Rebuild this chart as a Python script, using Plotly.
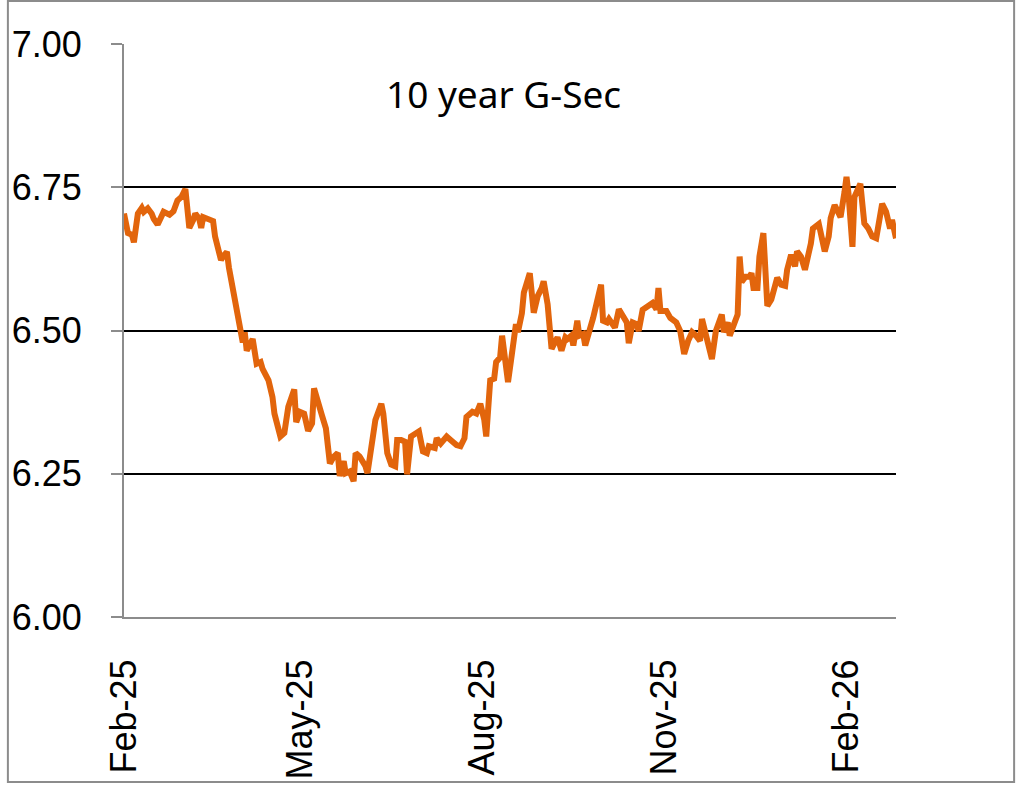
import plotly.graph_objects as go

dates = [
    "2025-02-01", "2025-02-03", "2025-02-05", "2025-02-06", "2025-02-08", "2025-02-10", "2025-02-11",
    "2025-02-13", "2025-02-15", "2025-02-16", "2025-02-18", "2025-02-20", "2025-02-21", "2025-02-24",
    "2025-02-26", "2025-02-28", "2025-03-02", "2025-03-04", "2025-03-06", "2025-03-08", "2025-03-09",
    "2025-03-11", "2025-03-12", "2025-03-13", "2025-03-15", "2025-03-18", "2025-03-19", "2025-03-21",
    "2025-03-22", "2025-03-23", "2025-03-25", "2025-03-26", "2025-03-28", "2025-03-30", "2025-04-01",
    "2025-04-02", "2025-04-03", "2025-04-04", "2025-04-07", "2025-04-09", "2025-04-11", "2025-04-12",
    "2025-04-15", "2025-04-17", "2025-04-18", "2025-04-21", "2025-04-23", "2025-04-25", "2025-04-28",
    "2025-04-29", "2025-05-01", "2025-05-03", "2025-05-05", "2025-05-07", "2025-05-08", "2025-05-10",
    "2025-05-12", "2025-05-14", "2025-05-15", "2025-05-16", "2025-05-18", "2025-05-20", "2025-05-21",
    "2025-05-23", "2025-05-24", "2025-05-26", "2025-05-28", "2025-05-29", "2025-05-31", "2025-06-03",
    "2025-06-04", "2025-06-06", "2025-06-08", "2025-06-11", "2025-06-12", "2025-06-14", "2025-06-16",
    "2025-06-18", "2025-06-19", "2025-06-21", "2025-06-23", "2025-06-24", "2025-06-26", "2025-06-30",
    "2025-07-02", "2025-07-04", "2025-07-05", "2025-07-08", "2025-07-09", "2025-07-11", "2025-07-14",
    "2025-07-16", "2025-07-19", "2025-07-21", "2025-07-23", "2025-07-24", "2025-07-27", "2025-07-29",
    "2025-07-31", "2025-08-02", "2025-08-03", "2025-08-05", "2025-08-07", "2025-08-08", "2025-08-10",
    "2025-08-11", "2025-08-14", "2025-08-16", "2025-08-18", "2025-08-19", "2025-08-21", "2025-08-22",
    "2025-08-25", "2025-08-27", "2025-08-29", "2025-08-31", "2025-09-01", "2025-09-03", "2025-09-05",
    "2025-09-07", "2025-09-08", "2025-09-10", "2025-09-12", "2025-09-13", "2025-09-15", "2025-09-16",
    "2025-09-18", "2025-09-19", "2025-09-21", "2025-09-22", "2025-09-24", "2025-09-26", "2025-09-28",
    "2025-09-30", "2025-10-01", "2025-10-03", "2025-10-04", "2025-10-06", "2025-10-07", "2025-10-09",
    "2025-10-11", "2025-10-13", "2025-10-14", "2025-10-16", "2025-10-18", "2025-10-19", "2025-10-21",
    "2025-10-24", "2025-10-26", "2025-10-28", "2025-10-29", "2025-10-30", "2025-11-02", "2025-11-04",
    "2025-11-07", "2025-11-09", "2025-11-11", "2025-11-13", "2025-11-15", "2025-11-17", "2025-11-19",
    "2025-11-20", "2025-11-22", "2025-11-24", "2025-11-25", "2025-11-27", "2025-11-29", "2025-11-30",
    "2025-12-01", "2025-12-03", "2025-12-04", "2025-12-06", "2025-12-08", "2025-12-09", "2025-12-10",
    "2025-12-12", "2025-12-14", "2025-12-15", "2025-12-16", "2025-12-18", "2025-12-19", "2025-12-21",
    "2025-12-23", "2025-12-25", "2025-12-27", "2025-12-28", "2025-12-30", "2026-01-01", "2026-01-02",
    "2026-01-04", "2026-01-06", "2026-01-07", "2026-01-09", "2026-01-11", "2026-01-14", "2026-01-15",
    "2026-01-18", "2026-01-19", "2026-01-21", "2026-01-23", "2026-01-24", "2026-01-26", "2026-01-28",
    "2026-01-29", "2026-01-31", "2026-02-01", "2026-02-02", "2026-02-04", "2026-02-05", "2026-02-08",
    "2026-02-09", "2026-02-10", "2026-02-12", "2026-02-14", "2026-02-16", "2026-02-19", "2026-02-21",
    "2026-02-23", "2026-02-24", "2026-02-26",
]

yields = [
    6.704, 6.670, 6.667, 6.654, 6.704, 6.714, 6.707,
    6.713, 6.704, 6.695, 6.685, 6.701, 6.707, 6.702,
    6.708, 6.727, 6.733, 6.747, 6.679, 6.693, 6.704,
    6.695, 6.679, 6.698, 6.695, 6.691, 6.664, 6.632,
    6.623, 6.629, 6.637, 6.610, 6.576, 6.540, 6.499,
    6.479, 6.497, 6.465, 6.485, 6.442, 6.445, 6.433,
    6.413, 6.384, 6.355, 6.315, 6.321, 6.367, 6.397,
    6.340, 6.358, 6.355, 6.325, 6.338, 6.399, 6.370,
    6.352, 6.329, 6.280, 6.268, 6.280, 6.286, 6.246,
    6.272, 6.251, 6.254, 6.237, 6.286, 6.280, 6.263,
    6.251, 6.298, 6.344, 6.372, 6.355, 6.286, 6.266,
    6.263, 6.309, 6.309, 6.306, 6.249, 6.315, 6.324,
    6.289, 6.286, 6.298, 6.295, 6.312, 6.303, 6.315,
    6.309, 6.300, 6.298, 6.312, 6.349, 6.358, 6.355,
    6.372, 6.344, 6.315, 6.413, 6.416, 6.445, 6.453,
    6.491, 6.410, 6.460, 6.511, 6.497, 6.530, 6.566,
    6.600, 6.531, 6.560, 6.574, 6.586, 6.546, 6.468,
    6.482, 6.488, 6.465, 6.488, 6.485, 6.491, 6.474,
    6.517, 6.491, 6.494, 6.474, 6.494, 6.522, 6.551,
    6.580, 6.517, 6.514, 6.520, 6.511, 6.505, 6.537,
    6.525, 6.514, 6.478, 6.514, 6.511, 6.499, 6.536,
    6.543, 6.548, 6.537, 6.574, 6.534, 6.534, 6.522,
    6.514, 6.499, 6.459, 6.482, 6.497, 6.491, 6.482,
    6.520, 6.491, 6.459, 6.450, 6.499, 6.517, 6.528,
    6.497, 6.514, 6.491, 6.511, 6.528, 6.629, 6.585,
    6.594, 6.594, 6.600, 6.574, 6.574, 6.629, 6.670,
    6.543, 6.554, 6.577, 6.592, 6.580, 6.578, 6.606,
    6.632, 6.612, 6.638, 6.629, 6.606, 6.652, 6.678,
    6.686, 6.670, 6.638, 6.664, 6.696, 6.719, 6.701,
    6.698, 6.742, 6.768, 6.739, 6.646, 6.733, 6.756,
    6.721, 6.687, 6.678, 6.664, 6.661, 6.721, 6.707,
    6.678, 6.693, 6.661,
]

x_tick_vals = ["2025-02-01", "2025-05-01", "2025-08-01", "2025-11-01", "2026-02-01"]
x_tick_text = ["Feb-25", "May-25", "Aug-25", "Nov-25", "Feb-26"]
y_tick_vals = [6.00, 6.25, 6.50, 6.75, 7.00]
y_tick_text = ["6.00", "6.25", "6.50", "6.75", "7.00"]
title_text = "10 year G-Sec"

fig = go.Figure()
fig.add_trace(go.Scatter(
    x=dates, y=yields, mode="lines",
    line=dict(color="#E2650C", width=6),
    hoverinfo="x+y", showlegend=False,
))

tick_font = dict(family="Liberation Sans, Arial, sans-serif", size=36, color="#000000")

fig.update_layout(
    width=1018, height=791,
    margin=dict(l=118, r=122, t=44, b=169),
    paper_bgcolor="white", plot_bgcolor="white",
    xaxis=dict(
        type="date",
        range=["2025-02-01", "2026-02-26"],
        tickmode="array", tickvals=x_tick_vals, ticktext=x_tick_text,
        tickangle=-90, tickfont=tick_font,
        showgrid=False, zeroline=False,
        showline=True, linecolor="#8C8C8C", linewidth=2,
        ticks="", ticklabelstandoff=26,
    ),
    yaxis=dict(
        range=[6.0, 7.0],
        tickmode="array", tickvals=y_tick_vals, ticktext=y_tick_text,
        tickfont=tick_font,
        showgrid=True, gridcolor="#000000", gridwidth=2,
        zeroline=False,
        showline=True, linecolor="#8C8C8C", linewidth=2,
        ticks="outside", ticklen=11, tickcolor="#8C8C8C", tickwidth=2,
        ticklabelstandoff=22,
    ),
    annotations=[dict(
        text=title_text, xref="paper", yref="paper",
        x=0.491, y=0.913, xanchor="center", yanchor="middle",
        showarrow=False,
        font=dict(family="Noto Sans, Lato, sans-serif", size=37, color="#000000"),
    )],
    shapes=[dict(
        type="rect", xref="paper", yref="paper",
        x0=-0.1504, x1=1.1530, y0=-0.2880, y1=1.0752,
        line=dict(color="#8C8C8C", width=2), fillcolor="rgba(0,0,0,0)",
        layer="above",
    )],
)

fig.write_html(
    "out.html",
    config={"responsive": False, "displayModeBar": False},
    post_script="document.body.style.margin='0';document.body.style.overflow='hidden';",
)
